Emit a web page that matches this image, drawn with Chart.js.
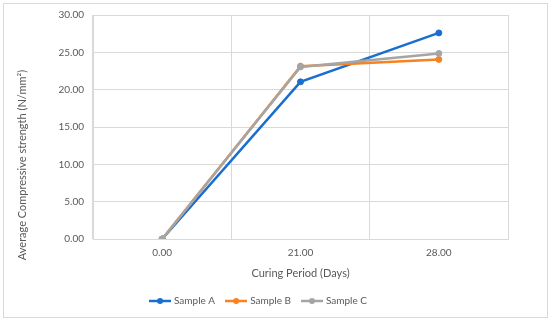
<!DOCTYPE html>
<html>
<head>
<meta charset="utf-8">
<script src="https://cdn.jsdelivr.net/npm/chart.js@4/dist/chart.umd.min.js"></script>
<style>
  body { margin: 0; background: #fff; }
  #frame { position: absolute; left: 3px; top: 3px; width: 543px; height: 313px; border: 1px solid #d9d9d9; }
  #wrap { position: absolute; left: 0; top: 0; width: 550px; height: 322px; }
</style>
</head>
<body>
<div id="frame"></div>
<div id="wrap"><canvas id="chart" width="550" height="322"></canvas></div>
<script>
// данные с графика
const days = ['0.00', '21.00', '28.00'];
const sampleA = [0, 21.05, 27.6];
const sampleB = [0, 23.15, 24.05];
const sampleC = [0, 23.05, 24.85];
const yTitle = 'Average Compressive strength (N/mm²)';

const gridColor = '#d9d9d9';
const textColor = '#595959';
const font = 'Lato, "Open Sans", sans-serif';

// значок легенды: линия с точкой
function legendIcon(color) {
  const c = document.createElement('canvas');
  c.width = 22; c.height = 8;
  const g = c.getContext('2d');
  g.strokeStyle = color; g.lineWidth = 2.5;
  g.beginPath(); g.moveTo(0, 4); g.lineTo(22, 4); g.stroke();
  g.fillStyle = color;
  g.beginPath(); g.arc(11, 4, 3, 0, Math.PI * 2); g.fill();
  return c;
}

function series(label, data, color, order) {
  return {
    label, data, order,
    borderColor: color,
    backgroundColor: color,
    borderWidth: 2.5,
    pointRadius: 3,
    pointHoverRadius: 3,
    pointBorderWidth: 1,
    pointStyle: 'circle',
    legendIcon: legendIcon(color),
    tension: 0
  };
}

// подпись оси Y как в Excel — сдвинута вниз относительно области графика
const yTitlePlugin = {
  id: 'yTitle',
  afterDraw(chart) {
    const ctx = chart.ctx;
    ctx.save();
    ctx.translate(22, 165);
    ctx.rotate(-Math.PI / 2);
    ctx.font = '11px ' + font;
    ctx.fillStyle = textColor;
    ctx.textAlign = 'center';
    ctx.textBaseline = 'middle';
    ctx.fillText(yTitle, 0, 0);
    ctx.restore();
  }
};

new Chart(document.getElementById('chart'), {
  type: 'line',
  data: {
    labels: days,
    datasets: [
      series('Sample A', sampleA, '#1a6ed0', 3),
      series('Sample B', sampleB, '#f7821f', 2),
      series('Sample C', sampleC, '#a5a5a5', 1)
    ]
  },
  plugins: [yTitlePlugin],
  options: {
    responsive: false,
    animation: false,
    layout: { padding: { left: 10, right: 42, top: 11, bottom: 6 } },
    plugins: {
      tooltip: { enabled: false },
      legend: {
        position: 'bottom',
        labels: {
          usePointStyle: true,
          pointStyleWidth: 18,
          color: textColor,
          font: { family: font, size: 10 },
          padding: 12,
          generateLabels(chart) {
            return chart.data.datasets.map((ds, i) => ({
              text: ds.label,
              pointStyle: ds.legendIcon,
              fontColor: textColor,
              datasetIndex: i,
              hidden: false,
              lineWidth: 0
            }));
          }
        }
      }
    },
    scales: {
      x: {
        offset: true,
        grid: { color: gridColor, offset: true, drawTicks: false },
        border: { color: gridColor },
        ticks: { color: textColor, font: { family: font, size: 10 }, padding: 8 },
        title: { display: true, text: 'Curing Period (Days)', color: textColor, font: { family: font, size: 11 }, padding: { top: 6 } },
        afterFit(s) { s.height = 45; }
      },
      y: {
        min: 0, max: 30,
        grid: { color: gridColor, drawTicks: false },
        border: { color: gridColor },
        ticks: { stepSize: 5, color: textColor, font: { family: font, size: 10 }, padding: 9, callback: v => v.toFixed(2) },
        afterFit(s) { s.width = 83; }
      }
    }
  }
});
</script>
</body>
</html>
